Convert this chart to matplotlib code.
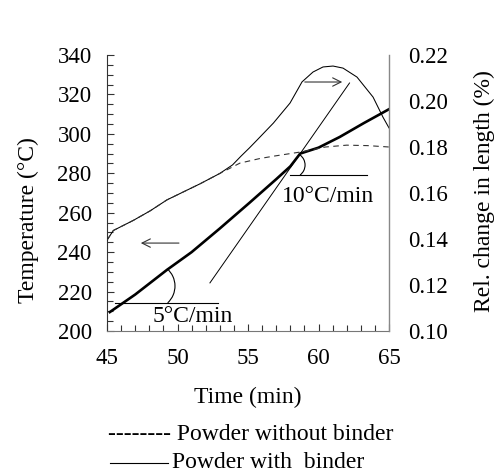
import numpy as np
import matplotlib
matplotlib.use("Agg")
import matplotlib.pyplot as plt
from matplotlib.patches import Arc
from matplotlib.lines import Line2D
from matplotlib.transforms import ScaledTranslation

plt.rcParams["font.family"] = ["Liberation Serif", "DejaVu Serif"]

# heating temperature (left axis)
temp_t = [45.2, 47.0, 49.25, 51.0, 53.0, 55.1, 57.0, 58.0, 58.7, 60.0, 61.5, 63.2, 65.0]
temp_T = [209.6, 218.5, 231.0, 240.0, 252.0, 265.0, 277.0, 283.5, 290.0, 293.0, 298.4, 305.4, 312.5]

# powder with binder, rel. change in length (right axis)
with_t = [45.0, 45.45, 46.87, 48.05, 49.25, 51.6, 53.0, 53.9, 54.5, 55.1, 55.64, 56.8,
          57.98, 58.83, 59.61, 60.32, 61.03, 61.74, 62.73, 63.87, 64.57, 65.0]
with_v = [0.1395, 0.1437, 0.1481, 0.1522, 0.1570, 0.1640, 0.1685, 0.1722, 0.1760, 0.1796,
          0.1830, 0.1904, 0.1991, 0.2083, 0.2126, 0.2148, 0.2152, 0.2143, 0.2104, 0.2017,
          0.1930, 0.1883]

# powder without binder (right axis)
without_t = [45.0, 45.45, 46.87, 48.05, 49.25, 51.6, 53.0, 54.43, 55.85, 56.8, 58.7,
             60.5, 62.0, 63.5, 65.0]
without_v = [0.1395, 0.1437, 0.1481, 0.1522, 0.1570, 0.1640, 0.1685, 0.1730, 0.1750,
             0.1760, 0.1778, 0.1800, 0.1808, 0.1806, 0.1800]

FS = 16.5
FS_TXT = 17

fig = plt.figure(figsize=(4.97, 4.74), dpi=100)
ax = fig.add_axes([107 / 497, 1 - 331 / 474, 282 / 497, 276 / 474])
ax2 = ax.twinx()

ax.plot(temp_t, temp_T, color="black", lw=1.9)
ax2.plot(with_t, with_v, color="black", lw=0.75)
ax2.plot(without_t, without_v, color="#333333", lw=0.8, dashes=(5, 4))

ax.set_xlim(45, 65)
ax.set_ylim(200, 340)
ax2.set_ylim(0.10, 0.22)

ax.set_xticks(np.arange(45, 66, 5))
ax.set_xticks(np.arange(45, 66, 1), minor=True)
ax.set_yticks(np.arange(200, 341, 20))
ax.set_yticks(np.arange(200, 341, 5), minor=True)
ax.tick_params(which="both", direction="in", labelsize=FS, colors="#333333",
               labelcolor="black", width=0.8)
ax.tick_params(which="major", length=5)
ax.tick_params(which="minor", length=4.5)
ax.tick_params(axis="y", pad=11)
ax.tick_params(axis="x", pad=12)

ax2.set_yticks(np.arange(0.10, 0.221, 0.02))
ax2.set_yticklabels(["%.2f" % v for v in np.arange(0.10, 0.221, 0.02)])
ax2.tick_params(axis="y", length=0, pad=14, labelsize=FS)

for s in ["top", "right"]:
    ax.spines[s].set_visible(False)
ax.spines["left"].set_color("#333333")
ax.spines["bottom"].set_color("#777777")
for s in ["top", "left", "bottom"]:
    ax2.spines[s].set_visible(False)
ax2.spines["right"].set_color("#888888")
ax2.spines["right"].set_linewidth(1.0)

ax.set_xlabel("Time (min)", fontsize=FS_TXT)
ax.xaxis.set_label_coords(0.5, -0.239)
ax.xaxis.label.set_va("center")
ax.set_ylabel("Temperature (°C)", fontsize=FS_TXT)
ax.yaxis.set_label_coords(-0.28, 0.402)
ax.yaxis.label.set_va("center")
ax2.set_ylabel("Rel. change in length (%)", fontsize=FS_TXT)
ax2.yaxis.set_label_coords(1.34, 0.507)
ax2.yaxis.label.set_va("center")

# slope annotations
ax.plot([45.57, 52.87], [214.0, 214.0], color="black", lw=0.8)
ax.plot([57.98, 63.44], [279.1, 279.1], color="black", lw=0.8)
ax.plot([52.3, 62.2], [224.4, 325.8], color="black", lw=0.7)
ax.text(51.1, 207.6, "5°C/min", fontsize=FS_TXT, ha="center", va="center")
ax.text(60.64, 268.0, "10°C/min", fontsize=FS_TXT, ha="center", va="center")

for cx, cy, r, th1, th2 in [(48.19, 222.8, 0.23, -47, 49), (58.16, 284.2, 0.125, -53, 53)]:
    arc = Arc((0, 0), 2 * r, 2 * r, theta1=th1, theta2=th2, color="black", lw=0.8,
              transform=fig.dpi_scale_trans + ScaledTranslation(cx, cy, ax.transData))
    ax.add_patch(arc)

ax.annotate("", xy=(47.2, 244.6), xytext=(50.3, 244.6),
            arrowprops=dict(arrowstyle="->", lw=0.8, color="#333333", mutation_scale=15))
ax.annotate("", xy=(61.88, 326.3), xytext=(58.83, 326.3),
            arrowprops=dict(arrowstyle="->", lw=0.8, color="#333333", mutation_scale=15))

# legend written below the axes
fig.text(108 / 497, 1 - 435 / 474, "-------- Powder without binder", fontsize=FS_TXT,
         ha="left", va="center")
fig.add_artist(Line2D([110 / 497, 168 / 497], [1 - 463 / 474, 1 - 463 / 474],
                      color="black", lw=0.8, transform=fig.transFigure))
fig.text(172 / 497, 1 - 463 / 474, "Powder with  binder", fontsize=FS_TXT,
         ha="left", va="center")

fig.savefig("out.png", dpi=100)
